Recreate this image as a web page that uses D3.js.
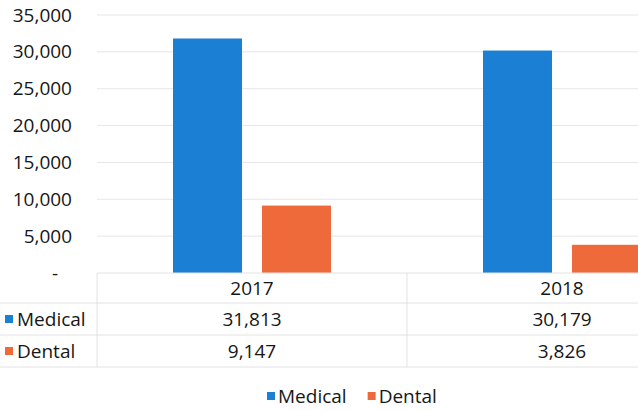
<!DOCTYPE html>
<html>
<head>
<meta charset="utf-8">
<script src="https://cdn.jsdelivr.net/npm/d3@7"></script>
<style>
  html, body { margin: 0; padding: 0; background: #fff; }
  svg text { font-family: "Open Sans", "DejaVu Sans", sans-serif; fill: #161616; font-weight: 500; }
</style>
</head>
<body>
<svg id="chart" width="638" height="411"></svg>
<script>
// Claims by year
const years = ["2017", "2018"];
const seriesNames = ["Medical", "Dental"];
const medical = [31813, 30179];
const dental = [9147, 3826];
const yTicks = [0, 5000, 10000, 15000, 20000, 25000, 30000, 35000];
const colors = ["#1b7fd3", "#ee6a3b"];

const seriesValues = [medical, dental];
const rows = years.map((y, i) => ({
  year: y,
  values: seriesNames.map((s, k) => ({ key: s, value: seriesValues[k][i], color: colors[k] }))
}));

const svg = d3.select("#chart");
const fontSize = 19;

const x0 = d3.scaleBand().domain(years).range([97, 717]).padding(0);
const x1 = d3.scaleBand().domain(seriesNames).range([76, 234]).paddingInner(0.225).paddingOuter(0);
const y = d3.scaleLinear().domain([0, 35000]).range([273, 15]);

// Gridlines
svg.append("g")
  .selectAll("line")
  .data(yTicks.slice(1))
  .join("line")
  .attr("x1", 97).attr("x2", 638)
  .attr("y1", d => y(d)).attr("y2", d => y(d))
  .attr("stroke", "#e6e6e6")
  .attr("stroke-width", 1);

// Y axis labels (accounting style: zero shown as a dash)
const fmt = d3.format(",");
const yAxis = d3.axisLeft(y).tickValues(yTicks).tickSize(0).tickPadding(0)
  .tickFormat(d => d === 0 ? "-" : fmt(d));
svg.append("g")
  .attr("transform", "translate(72,0)")
  .call(yAxis)
  .call(g => g.select(".domain").remove())
  .call(g => g.selectAll("text")
    .attr("font-size", fontSize)
    .attr("font-family", null)
    .attr("fill", null)
    .attr("dx", d => d === 0 ? -14 : 0));

// Bars
const groups = svg.append("g")
  .selectAll("g")
  .data(rows)
  .join("g")
  .attr("transform", d => `translate(${x0(d.year)},0)`);

groups.selectAll("rect")
  .data(d => d.values)
  .join("rect")
  .attr("x", d => x1(d.key))
  .attr("width", x1.bandwidth())
  .attr("y", d => y(d.value))
  .attr("height", d => y(0) - y(d.value))
  .attr("fill", d => d.color);

// Data table beneath the plot
const tableTop = y(0);
const rowH = [30, 32, 32];
const rowY = [tableTop, tableTop + rowH[0], tableTop + rowH[0] + rowH[1], tableTop + rowH[0] + rowH[1] + rowH[2]];
const lineColor = "#e2e2e2";
const tbl = svg.append("g");

// horizontal rules
tbl.append("line")
  .attr("x1", 97).attr("x2", 638).attr("y1", rowY[0]).attr("y2", rowY[0])
  .attr("stroke", lineColor);
[rowY[1], rowY[2], rowY[3]].forEach(yy => {
  tbl.append("line")
    .attr("x1", 0).attr("x2", 638).attr("y1", yy).attr("y2", yy)
    .attr("stroke", lineColor);
});
// vertical rules
[x0("2017"), x0("2018")].forEach(xx => {
  tbl.append("line")
    .attr("x1", xx).attr("x2", xx).attr("y1", rowY[0]).attr("y2", rowY[3])
    .attr("stroke", lineColor);
});

// header: years
tbl.selectAll("text.year")
  .data(years)
  .join("text")
  .attr("class", "year")
  .attr("x", d => x0(d) + x0.bandwidth() / 2)
  .attr("y", (rowY[0] + rowY[1]) / 2)
  .attr("dy", "0.35em")
  .attr("text-anchor", "middle")
  .attr("font-size", fontSize)
  .text(d => d);

// series rows
seriesNames.forEach((s, k) => {
  const cy = (rowY[k + 1] + rowY[k + 2]) / 2;
  tbl.append("rect")
    .attr("x", 5).attr("y", cy - 4).attr("width", 8).attr("height", 8)
    .attr("fill", colors[k]);
  tbl.append("text")
    .attr("x", 17).attr("y", cy).attr("dy", "0.35em")
    .attr("font-size", fontSize)
    .text(s);
  tbl.selectAll(null)
    .data(seriesValues[k])
    .join("text")
    .attr("x", (d, i) => x0(years[i]) + x0.bandwidth() / 2)
    .attr("y", cy).attr("dy", "0.35em")
    .attr("text-anchor", "middle")
    .attr("font-size", fontSize)
    .text(d => fmt(d));
});

// Legend
const legend = svg.append("g").attr("transform", "translate(267,396)");
let lx = 0;
seriesNames.forEach((s, k) => {
  const item = legend.append("g").attr("transform", `translate(${lx},0)`);
  item.append("rect").attr("x", 0).attr("y", -4).attr("width", 8).attr("height", 8).attr("fill", colors[k]);
  const t = item.append("text").attr("x", 11).attr("y", 0).attr("dy", "0.35em")
    .attr("font-size", fontSize).text(s);
  lx += 11 + t.node().getComputedTextLength() + 21;
});
</script>
</body>
</html>
